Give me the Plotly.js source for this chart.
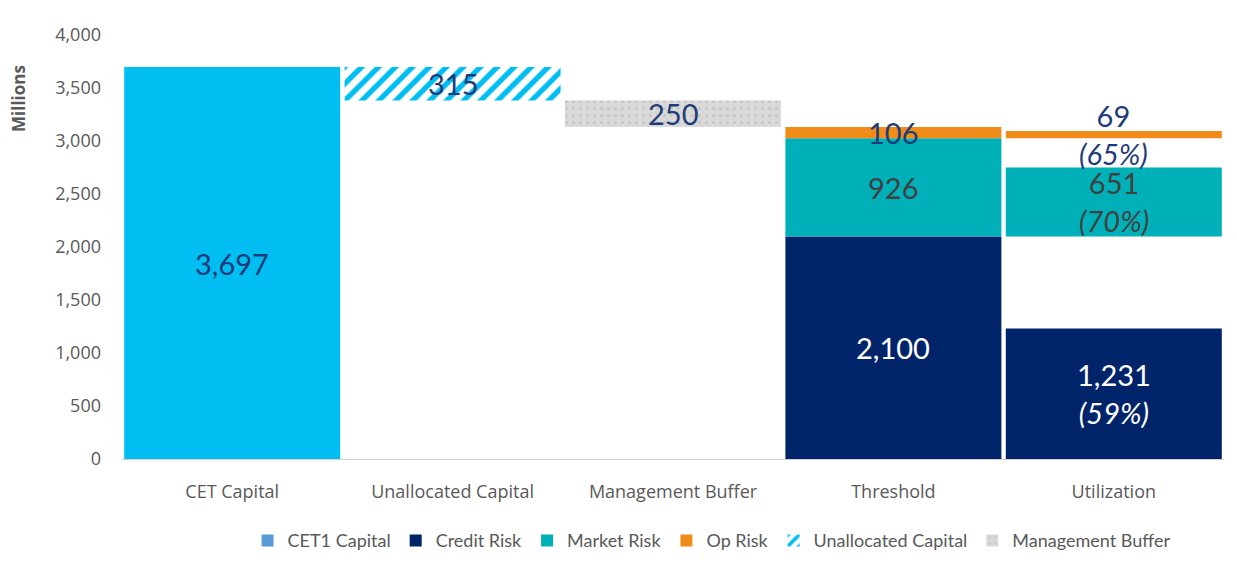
<!DOCTYPE html>
<html>
<head>
<meta charset="utf-8">
<script src="https://cdn.plot.ly/plotly-3.0.1.min.js"></script>
<style>html,body{margin:0;padding:0;background:#fff;}#chart{width:1237px;height:570px;}</style>
</head>
<body>
<div id="chart"></div>
<script>
// ---- data ----
const categories = ["CET Capital", "Unallocated Capital", "Management Buffer", "Threshold", "Utilization"];
const cetCapital = 3697;
const creditRisk = [2100, 1231];        // Threshold, Utilization
const marketRisk = [926, 651];
const opRisk = [106, 69];
const mgmtBuffer = 250;
const utilizationPct = ["59%", "70%", "65%"]; // credit, market, op
const yTicks = [0, 500, 1000, 1500, 2000, 2500, 3000, 3500, 4000];

// derived
const thresholdTotal = creditRisk[0] + marketRisk[0] + opRisk[0];
const unallocated = cetCapital - thresholdTotal - mgmtBuffer;
const mgmtBase = thresholdTotal;
const unallocBase = thresholdTotal + mgmtBuffer;
const marketBase = [creditRisk[0], creditRisk[0]];
const opBase = [creditRisk[0] + marketRisk[0], creditRisk[0] + marketRisk[0]];
const riskCats = [categories[3], categories[4]];

const C = {
  cet: "#00BEF2", cetLegend: "#5B9BD5", credit: "#002469", market: "#00B0B9",
  op: "#F08C1A", gray: "#D9D9D9", navyText: "#1F3B78", grayText: "#404040"
};
const FONT = "Lato, 'Open Sans', sans-serif";
const AXFONT = "'Open Sans', 'Noto Sans', sans-serif";

const traces = [
  {type: "bar", name: "CET1 Capital", x: [categories[0]], y: [cetCapital], base: [0],
   marker: {color: C.cet}, showlegend: false, hoverinfo: "skip"},
  {type: "bar", name: "CET1 Capital", x: [categories[0]], y: [null],
   marker: {color: C.cetLegend}, hoverinfo: "skip"},
  {type: "bar", name: "Credit Risk", x: riskCats, y: creditRisk, base: [0, 0],
   marker: {color: C.credit}},
  {type: "bar", name: "Market Risk", x: riskCats, y: marketRisk, base: marketBase,
   marker: {color: C.market}},
  {type: "bar", name: "Op Risk", x: riskCats, y: opRisk, base: opBase,
   marker: {color: C.op}},
  {type: "bar", name: "Unallocated Capital", x: [categories[1]], y: [unallocated], base: [unallocBase],
   marker: {color: "#ffffff", pattern: {shape: "/", fgcolor: C.cet, bgcolor: "#ffffff", size: 12, solidity: 0.45}}},
  {type: "bar", name: "Management Buffer", x: [categories[2]], y: [mgmtBuffer], base: [mgmtBase],
   marker: {color: C.gray, pattern: {shape: ".", fgcolor: "#C6C6C6", bgcolor: C.gray, size: 7, solidity: 0.15}}}
];

function ann(x, y, text, color) {
  return {x: x, y: y, xref: "x", yref: "y", text: text, showarrow: false,
          font: {family: FONT, size: 29, color: color}, xanchor: "center", yanchor: "middle"};
}
const fmt = v => v.toLocaleString("en-US");
const annotations = [
  ann(categories[0], cetCapital / 2, fmt(cetCapital), C.navyText),
  ann(categories[1], unallocBase + unallocated / 2, fmt(unallocated), C.navyText),
  ann(categories[2], mgmtBase + mgmtBuffer / 2, fmt(mgmtBuffer), C.navyText),
  ann(categories[3], creditRisk[0] / 2, fmt(creditRisk[0]), "#ffffff"),
  ann(categories[3], marketBase[0] + marketRisk[0] / 2, fmt(marketRisk[0]), C.grayText),
  ann(categories[3], opBase[0] + opRisk[0] / 2, fmt(opRisk[0]), C.navyText),
  ann(categories[4], creditRisk[1] / 2, fmt(creditRisk[1]) + "<br><i>(" + utilizationPct[0] + ")</i>", "#ffffff"),
  ann(categories[4], marketBase[1] + marketRisk[1] / 2, fmt(marketRisk[1]) + "<br><i>(" + utilizationPct[1] + ")</i>", C.grayText),
  ann(categories[4], opBase[1] + opRisk[1] / 2, fmt(opRisk[1]) + "<br><i>(" + utilizationPct[2] + ")</i>", C.navyText),
  {xref: "paper", yref: "paper", x: -0.094, y: 0.85, text: "<b>Millions</b>", textangle: -90,
   showarrow: false, font: {family: AXFONT, size: 17, color: "#595959"}, xanchor: "center", yanchor: "middle"}
];

const layout = {
  width: 1237, height: 570,
  margin: {l: 122, r: 13, t: 35, b: 110},
  paper_bgcolor: "#ffffff", plot_bgcolor: "#ffffff",
  barmode: "overlay", bargap: 0.02,
  font: {family: AXFONT, color: "#595959", size: 18},
  xaxis: {type: "category", categoryorder: "array", categoryarray: categories,
          showgrid: false, zeroline: false, showline: true, linecolor: "#D0D0D0", linewidth: 1,
          ticks: "", ticklabelstandoff: 16, tickfont: {family: AXFONT, size: 18, color: "#595959"}, fixedrange: true},
  yaxis: {range: [0, 4000], tickvals: yTicks, tickformat: ",", showgrid: false, zeroline: false,
          showline: false, ticks: "", ticklabelstandoff: 20,
          tickfont: {family: AXFONT, size: 18, color: "#595959"}, fixedrange: true},
  showlegend: true,
  legend: {orientation: "h", x: 0.535, xanchor: "center", y: -0.19, yanchor: "middle",
           font: {family: FONT, size: 18, color: "#595959"}, traceorder: "normal",
           itemwidth: 30, tracegroupgap: 0},
  annotations: annotations
};

Plotly.newPlot("chart", traces, layout, {displayModeBar: false, staticPlot: true});
</script>
</body>
</html>
